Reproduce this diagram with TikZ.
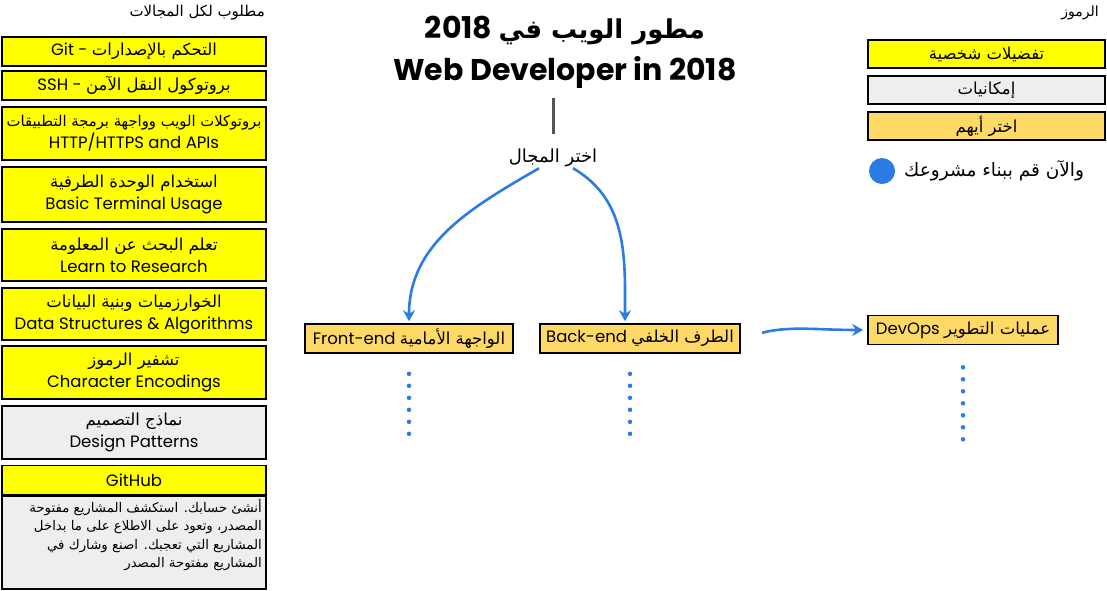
\documentclass[tikz,border=0pt]{standalone}
\usepackage{fontspec}
\setmainfont{Poppins}
\newfontfamily\arabicfont[Script=Arabic]{DejaVu Sans}
\TeXXeTstate=1
\usetikzlibrary{arrows.meta,positioning}
\definecolor{BoxYellow}{HTML}{FFFF00}
\definecolor{BoxGray}{HTML}{EEEEEE}
\definecolor{BoxOrange}{HTML}{FFD966}
\definecolor{LinkBlue}{HTML}{2B7BE4}
\definecolor{StemGray}{HTML}{555555}
\newcommand{\artxt}[1]{{\arabicfont\beginR #1\endR}}

\begin{document}
\begin{tikzpicture}[x=1pt, y=1pt,
    reqnode/.style={draw=black, line width=1.6pt, fill=BoxYellow, minimum width=264pt, inner sep=2pt, align=center, font=\fontsize{16.5}{22}\selectfont},
    optnode/.style={reqnode, fill=BoxGray},
    picknode/.style={draw=black, line width=1.6pt, fill=BoxOrange, inner sep=4pt, minimum height=29pt, font=\fontsize{16.5}{22}\selectfont},
    keynode/.style={draw=black, line width=1.6pt, minimum width=237pt, minimum height=28pt, inner sep=2pt, font=\fontsize{16.5}{22}\selectfont},
    plain/.style={inner sep=1pt, font=\fontsize{15}{20}\selectfont},
    flow/.style={-{Stealth[length=11pt,width=12pt]}, draw=LinkBlue, line width=2.6pt},
    dotline/.style={draw=LinkBlue, line width=4.5pt, line cap=round, dash pattern=on 0pt off 12pt},
    stem/.style={draw=StemGray, line width=3pt}
  ]
    \useasboundingbox (0,0) rectangle (1107,-590);

    \node[plain, anchor=east] (reqhead) at (266,-13) {\artxt{مطلوب لكل المجالات}};

    \node[reqnode, minimum height=29pt] (git) at (134,-51.5) {{Git -} \artxt{التحكم بالإصدارات}};
    \node[reqnode, minimum height=29pt] (ssh) at (134,-85.5) {{SSH -} \artxt{بروتوكول النقل الآمن}};
    \node[reqnode, minimum height=53pt] (http) at (134,-133.5) {{\fontsize{14.8}{22}\selectfont\artxt{بروتوكلات الويب وواجهة برمجة التطبيقات}}\\HTTP/HTTPS and APIs};
    \node[reqnode, minimum height=55pt] (term) at (134,-194.5) {\artxt{استخدام الوحدة الطرفية}\\Basic Terminal Usage};
    \node[reqnode, minimum height=52pt] (research) at (134,-255) {\artxt{تعلم البحث عن المعلومة}\\Learn to Research};
    \node[reqnode, minimum height=52pt] (algo) at (134,-314) {\artxt{الخوارزميات وبنية البيانات}\\Data Structures \& Algorithms};
    \node[reqnode, minimum height=53pt] (enc) at (134,-372.5) {\artxt{تشفير الرموز}\\Character Encodings};
    \node[optnode, minimum height=53pt] (design) at (134,-432.5) {\artxt{نماذج التصميم}\\Design Patterns};
    \node[reqnode, minimum height=29pt] (github) at (134,-480) {GitHub};
    \node[optnode, minimum height=93pt, anchor=north] (ghtext) at (github.south) {};
    \node[plain, anchor=north east, align=right, font=\fontsize{13.3}{18.5}\selectfont] (ghnote) at (263,-498) {\artxt{أنشئ حسابك. استكشف المشاريع مفتوحة}\\\artxt{المصدر، وتعود على الاطلاع على ما بداخل}\\\artxt{المشاريع التي تعجبك. اصنع وشارك في}\\\artxt{المشاريع مفتوحة المصدر}};

    \node[align=center, font=\bfseries\fontsize{30}{42}\selectfont] (title) at (565,-52) {{2018} {\fontsize{26}{42}\selectfont\artxt{مطور الويب في}}\\Web Developer in 2018};
    \node[plain, font=\fontsize{18}{20}\selectfont] (field) at (553,-158) {\artxt{اختر المجال}};

    \node[picknode, minimum width=208pt] (front) at (409,-338.5) {{Front-end} \artxt{الواجهة الأمامية}};
    \node[picknode, minimum width=200pt] (back) at (640,-338.5) {{Back-end} \artxt{الطرف الخلفي}};
    \node[picknode, minimum width=190pt] (devops) at (963,-330) {{DevOps} \artxt{عمليات التطوير}};

    \node[plain, anchor=east, font=\fontsize{14}{20}\selectfont] (keyhead) at (1100,-13) {\artxt{الرموز}};
    \node[keynode, fill=BoxYellow] (keyreq) at (986.5,-54) {\artxt{تفضيلات شخصية}};
    \node[keynode, fill=BoxGray] (keyopt) at (986.5,-90) {\artxt{إمكانيات}};
    \node[keynode, fill=BoxOrange] (keypick) at (986.5,-126) {\artxt{اختر أيهم}};
    \node[circle, fill=LinkBlue, minimum size=26pt, inner sep=0pt] (keydot) at (882,-171) {};
    \node[plain, anchor=west, font=\fontsize{18.5}{20}\selectfont] (keybuild) at (903,-171) {\artxt{والآن قم ببناء مشروعك}};

    \draw[stem, shorten <=6pt, shorten >=14pt] (field.north |- title.south) -- (field.north);
    \draw[flow, shorten >=2pt] ([xshift=-14pt]field.south) to[out=210, in=90] (front.north);
    \draw[flow, shorten >=2pt] ([xshift=20pt]field.south) to[out=-30, in=90] ([xshift=-15pt]back.north);
    \draw[flow, shorten <=22pt, shorten >=4pt] (back.east) to[out=15, in=180] (devops.west);

    \draw[dotline, shorten <=20pt] (front.south) -- ++(0,-82);
    \draw[dotline, shorten <=20pt] ([xshift=-10pt]back.south) -- ++(0,-82);
    \draw[dotline, shorten <=22pt] (devops.south) -- ++(0,-96);
  \end{tikzpicture}
\end{document}
